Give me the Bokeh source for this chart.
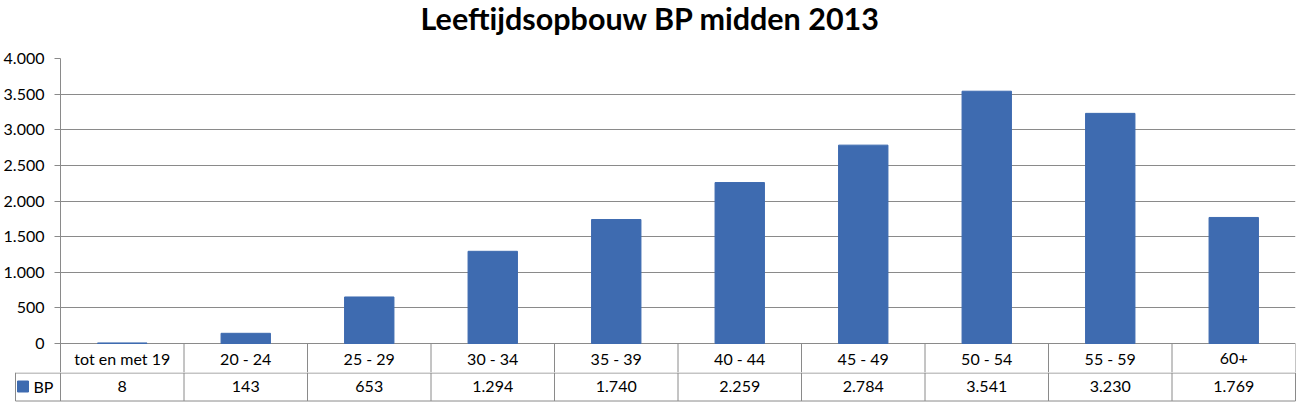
from bokeh.plotting import figure
from bokeh.layouts import column
from bokeh.models import Range1d, FixedTicker, ColumnDataSource
from bokeh.core.properties import value
from bokeh.embed import file_html
from bokeh.resources import INLINE

title = "Leeftijdsopbouw BP midden 2013"
categories = ["tot en met 19", "20 - 24", "25 - 29", "30 - 34", "35 - 39",
              "40 - 44", "45 - 49", "50 - 54", "55 - 59", "60+"]
bp_values = [8, 143, 653, 1294, 1740, 2259, 2784, 3541, 3230, 1769]
series_name = "BP"
y_ticks = [0, 500, 1000, 1500, 2000, 2500, 3000, 3500, 4000]

def nl(v):
    return f"{v:,}".replace(",", ".")

BAR = "#3E6BB0"
GRID = "#8A8A8A"
FONT = "Lato"
FS = "16px"

W = 1299
LEFT = 60
RIGHT = 4
TITLE_H = 46
TOP = 58
ZERO = 343          # pixel row of value 0
ROW1 = 372          # pixel row of the line between the two table rows
n = len(categories)
CW = (W - LEFT - RIGHT) / n           # pixels per category
UPP = 4000 / (ZERO - TOP)             # value units per pixel

xs = [i + 0.5 for i in range(n)]


def bare(fig):
    fig.axis.visible = False
    fig.grid.visible = False
    fig.outline_line_color = None
    fig.border_fill_color = "white"
    fig.background_fill_color = "white"


# ---- title strip ----
tt = figure(width=W, height=TITLE_H, output_backend="svg", toolbar_location=None,
            x_range=Range1d(0, W), y_range=Range1d(TITLE_H, 0),
            min_border_left=0, min_border_right=0, min_border_top=0, min_border_bottom=0,
            frame_align=False)
bare(tt)
tt.text(x=[650], y=[17], text=[title], text_align="center", text_baseline="middle",
        text_font=value(FONT), text_font_style="bold", text_font_size="30.5px",
        text_color="black")

# ---- chart (with first table row) ----
p = figure(width=W, height=ROW1 - TITLE_H, output_backend="svg", toolbar_location=None,
           x_range=Range1d(0, n), y_range=Range1d(-(ROW1 - ZERO) * UPP, 4000),
           min_border_left=LEFT, min_border_right=RIGHT,
           min_border_top=TOP - TITLE_H, min_border_bottom=0, frame_align=False)
p.outline_line_color = None
p.background_fill_color = "white"
p.border_fill_color = "white"

p.vbar(x=xs, top=bp_values, width=0.4, color=BAR)

p.xaxis.visible = False
p.xgrid.visible = False
p.ygrid.ticker = FixedTicker(ticks=y_ticks)
p.ygrid.grid_line_color = GRID
p.ygrid.grid_line_width = 1

ax = p.yaxis[0]
ax.ticker = FixedTicker(ticks=y_ticks)
ax.major_label_overrides = {t: nl(t) for t in y_ticks}
ax.axis_line_color = GRID
ax.major_tick_line_color = GRID
ax.major_tick_out = 6
ax.major_tick_in = 0
ax.minor_tick_line_color = None
ax.major_label_standoff = 10
ax.major_label_text_font = FONT
ax.major_label_text_font_size = FS
ax.major_label_text_color = "black"

# first table row: category labels
vx = list(range(1, n + 1))
p.segment(x0=vx, y0=[0] * len(vx), x1=vx, y1=[-(ROW1 - ZERO) * UPP] * len(vx),
          line_color=GRID, line_width=1)
src = ColumnDataSource(dict(x=xs, cat=categories, val=[nl(v) for v in bp_values]))
p.text(x="x", y=-15 * UPP, text="cat", source=src, text_align="center",
       text_baseline="middle", text_font=value(FONT), text_font_size=FS, text_color="black")

# ---- second table row ----
H2 = 403 - ROW1
t = figure(width=W, height=H2, output_backend="svg", toolbar_location=None,
           x_range=Range1d(-LEFT / CW, (W - LEFT) / CW), y_range=Range1d(H2, 0),
           min_border_left=0, min_border_right=0, min_border_top=0, min_border_bottom=0,
           frame_align=False)
bare(t)

leg_left = -45 / CW
bot = 28.5
t.segment(x0=[leg_left, leg_left], y0=[0.5, bot], x1=[n, n], y1=[0.5, bot],
          line_color=GRID, line_width=1)
vx2 = list(range(n + 1)) + [leg_left]
t.segment(x0=vx2, y0=[0] * len(vx2), x1=vx2, y1=[bot] * len(vx2),
          line_color=GRID, line_width=1)
t.text(x="x", y=14, text="val", source=src, text_align="center", text_baseline="middle",
       text_font=value(FONT), text_font_size=FS, text_color="black")
t.rect(x=[-37.5 / CW], y=[14], width=11 / CW, height=11, color=BAR)
t.text(x=[-27 / CW], y=[14], text=[series_name], text_align="left", text_baseline="middle",
       text_font=value(FONT), text_font_size=FS, text_color="black")

layout = column(tt, p, t, spacing=0)
open("out.html", "w").write(file_html(layout, INLINE))
